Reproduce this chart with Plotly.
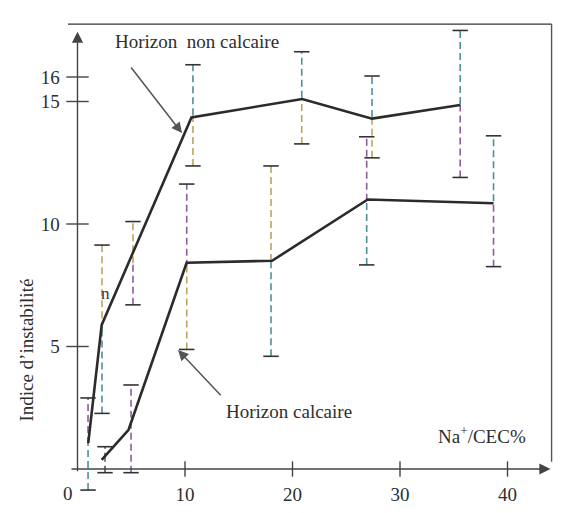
import plotly.graph_objects as go

# ---- data ----
upper_x = [1.0, 2.25, 10.6, 20.9, 27.4, 35.6]          # Horizon non calcaire
upper_y = [1.06, 5.88, 14.35, 15.1, 14.3, 14.86]
lower_x = [2.25, 4.75, 10.15, 18.1, 27.0, 38.7]        # Horizon calcaire
lower_y = [0.37, 1.6, 8.42, 8.5, 11.0, 10.85]
err_x = [0.98, 2.28, 2.56, 5.16, 4.98, 10.16, 10.74, 18.0, 20.86, 27.4, 26.9, 35.6, 38.7]
err_lo = [-0.86, 2.27, -0.15, 6.7, -0.15, 4.88, 12.37, 4.6, 13.27, 12.7, 8.33, 11.9, 8.26]
err_hi = [2.9, 9.14, 0.91, 10.1, 3.43, 11.63, 16.5, 12.37, 17.03, 16.04, 13.56, 17.9, 13.6]
x_ticks = [10, 20, 30, 40]
y_ticks = [5, 10, 15, 16]

# ---- styles ----
TEAL, OLIVE, PURPLE, GRAY = "#4f8f99", "#b9a65e", "#8c5d9c", "#555555"
top_cols = [PURPLE, OLIVE, GRAY, OLIVE, PURPLE, PURPLE, TEAL, OLIVE, TEAL, TEAL, PURPLE, TEAL, TEAL]
bot_cols = [TEAL, TEAL, GRAY, PURPLE, PURPLE, OLIVE, OLIVE, TEAL, OLIVE, OLIVE, TEAL, PURPLE, PURPLE]
FONT = "Liberation Serif, Times New Roman, serif"
INK = "#2b2b2b"

W, H = 571, 513
X0PX, XS = 77.5, 10.75      # px of x=0, px per unit
Y0PX, YS = 469.0, 24.5
xr = [-X0PX / XS, (W - X0PX) / XS]
yr = [(Y0PX - H) / YS, Y0PX / YS]

fig = go.Figure()

# error bars: dashed two-tone vertical segments with caps
for i in range(len(err_x)):
    mid = (err_lo[i] + err_hi[i]) / 2
    fig.add_trace(go.Scatter(x=[err_x[i], err_x[i]], y=[mid, err_hi[i]], mode="lines",
                             line=dict(color=top_cols[i], width=1.6, dash="7px,4px"),
                             hoverinfo="skip", showlegend=False))
    fig.add_trace(go.Scatter(x=[err_x[i], err_x[i]], y=[err_lo[i], mid], mode="lines",
                             line=dict(color=bot_cols[i], width=1.6, dash="7px,4px"),
                             hoverinfo="skip", showlegend=False))
fig.add_trace(go.Scatter(x=err_x + err_x, y=err_lo + err_hi, mode="markers",
                         marker=dict(symbol="line-ew", size=11, line=dict(color="#333", width=1.6)),
                         hoverinfo="skip", showlegend=False))

# curves
fig.add_trace(go.Scatter(x=upper_x, y=upper_y, mode="lines",
                         line=dict(color=INK, width=2.6), name="Horizon non calcaire", showlegend=False))
fig.add_trace(go.Scatter(x=lower_x, y=lower_y, mode="lines",
                         line=dict(color=INK, width=2.6), name="Horizon calcaire", showlegend=False))

# crossing tick marks
fig.add_trace(go.Scatter(x=x_ticks, y=[0] * len(x_ticks), mode="markers",
                         marker=dict(symbol="line-ns", size=11, line=dict(color="#444", width=1.4)),
                         hoverinfo="skip", showlegend=False))
fig.add_trace(go.Scatter(x=[0] * len(y_ticks), y=y_ticks, mode="markers",
                         marker=dict(symbol="line-ew", size=16, line=dict(color="#444", width=1.4)),
                         hoverinfo="skip", showlegend=False))

ann = []
# axis arrows
ann.append(dict(x=44.0, y=0, ax=-0.7, ay=0, axref="x", ayref="y", xref="x", yref="y",
                text="", showarrow=True, arrowhead=2, arrowsize=1.6, arrowwidth=1.4, arrowcolor="#444"))
ann.append(dict(x=0, y=17.85, ax=0, ay=-0.15, axref="x", ayref="y", xref="x", yref="y",
                text="", showarrow=True, arrowhead=2, arrowsize=1.6, arrowwidth=1.4, arrowcolor="#444"))
# pointer arrows
ann.append(dict(x=9.72, y=13.71, ax=4.88, ay=16.45, axref="x", ayref="y", xref="x", yref="y",
                text="", showarrow=True, arrowhead=2, arrowsize=1.4, arrowwidth=1.5, arrowcolor="#555"))
ann.append(dict(x=9.35, y=4.86, ax=13.45, ay=2.95, axref="x", ayref="y", xref="x", yref="y",
                text="", showarrow=True, arrowhead=2, arrowsize=1.4, arrowwidth=1.5, arrowcolor="#555"))
# texts
tf = dict(family=FONT, size=19, color="#2e2e2e")
ann.append(dict(x=11.16, y=17.43, text="Horizon\u2002non calcaire", showarrow=False, font=tf,
                xref="x", yref="y"))
ann.append(dict(x=19.63, y=2.33, text="Horizon calcaire", showarrow=False, font=tf, xref="x", yref="y"))
ann.append(dict(x=37.63, y=1.39, text="Na<sup>+</sup>/CEC%", showarrow=False, font=tf, xref="x", yref="y"))
ann.append(dict(x=2.56, y=7.18, text="n", showarrow=False, font=dict(family=FONT, size=17, color="#333"),
                xref="x", yref="y"))
ann.append(dict(x=-0.85, y=-0.98, text="0", showarrow=False, font=tf, xref="x", yref="y"))
ann.append(dict(x=-4.75, y=4.85, text="Indice d’instabilité", textangle=-90, showarrow=False,
                font=tf, xref="x", yref="y"))

shapes = [
    dict(type="line", xref="x", yref="y", x0=-0.88, x1=44.1, y0=18.16, y1=18.16,
         line=dict(color="#333", width=1.4)),
    dict(type="line", xref="x", yref="y", x0=44.1, x1=44.1, y0=18.16, y1=0.3,
         line=dict(color="#555", width=1.4)),
]

fig.update_layout(
    width=W, height=H, margin=dict(l=0, r=0, t=0, b=0),
    paper_bgcolor="white", plot_bgcolor="white",
    annotations=ann, shapes=shapes, showlegend=False,
    xaxis=dict(range=xr, anchor="free", position=(0 - yr[0]) / (yr[1] - yr[0]),
               showgrid=False, zeroline=False, showline=False,
               tickvals=x_ticks, ticktext=[str(v) for v in x_ticks],
               ticks="outside", ticklen=8, tickcolor="rgba(0,0,0,0)",
               tickfont=dict(family=FONT, size=19, color="#2e2e2e"), fixedrange=True),
    yaxis=dict(range=yr, anchor="free", position=(0 - xr[0]) / (xr[1] - xr[0]),
               showgrid=False, zeroline=False, showline=False,
               tickvals=y_ticks, ticktext=[str(v) for v in y_ticks],
               ticks="outside", ticklen=14, tickcolor="rgba(0,0,0,0)",
               tickfont=dict(family=FONT, size=19, color="#2e2e2e"), fixedrange=True),
)

fig.write_html("out.html")
